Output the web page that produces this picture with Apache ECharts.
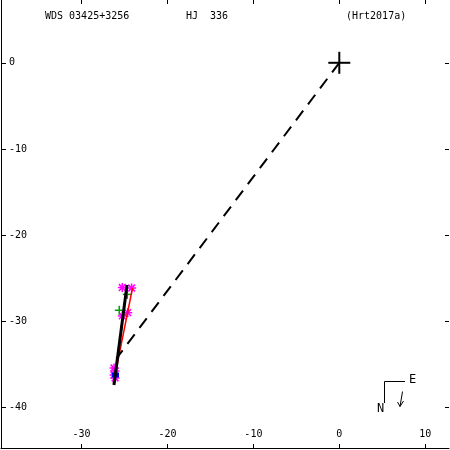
<!DOCTYPE html>
<html><head><meta charset="utf-8">
<script src="https://cdn.jsdelivr.net/npm/echarts@6/dist/echarts.min.js"></script>
<style>html,body{margin:0;padding:0;background:#fff}#c{width:450px;height:450px}</style>
</head><body><div id="c"></div>
<script>
const xTicks = [-30, -20, -10, 0, 10];
const yTicks = [0, -10, -20, -30, -40];
const origin = [[0, 0]];
const obsStars = [[-25.26,-26.07],[-24.17,-26.13],[-24.63,-28.99],[-25.26,-29.37],[-26.22,-35.41],[-26.1,-35.76],[-26.22,-36.22],[-26.1,-36.57]];
const greenPlus = [[-24.68,-26.87],[-25.61,-28.71]];
const blueSq = [[-26.05,-36.22]];
const blackLine = [[-24.71,-25.78],[-26.23,-37.38]];
const redLine = [[-24.07,-26.13],[-26.29,-37.15]];
const dashLine = [[0,0],[-25.94,-34.3]];
const titleLeft = 'WDS 03425+3256';
const titleMid = 'HJ  336';
const titleRight = '(Hrt2017a)';

const FONT = 'DejaVu Sans Mono';
const chart = echarts.init(document.getElementById('c'), null, {renderer:'canvas'});

function marker(kind, color, r, lw) {
  return function(params, api) {
    const p = api.coord([api.value(0), api.value(1)]);
    const st = {stroke: color, lineWidth: lw};
    const L = (x1,y1,x2,y2) => ({type:'line', shape:{x1:p[0]+x1,y1:p[1]+y1,x2:p[0]+x2,y2:p[1]+y2}, style:st});
    let ch = [L(-r,0,r,0), L(0,-r,0,r)];
    if (kind === 'star') { const d = r*0.75; ch.push(L(-d,-d,d,d), L(-d,d,d,-d)); }
    if (kind === 'sq') { return {type:'rect', shape:{x:p[0]-r, y:p[1]-r*0.7, width:2*r, height:1.4*r}, style:{fill:color}}; }
    return {type:'group', children: ch};
  };
}

const xmin = -39.38, xmax = 12.77, ymin = -44.69, ymax = 7.285;
chart.setOption({
  animation: false,
  backgroundColor: '#fff',
  grid: {left: 1, top: 0, right: 1, bottom: 2},
  xAxis: [
    {type:'value', splitLine:{show:false}, min:xmin, max:xmax, position:'bottom',
      axisLine:{show:true, onZero:false, lineStyle:{color:'#000', width:1}},
      axisTick:{show:true, inside:true, length:4, customValues:xTicks, lineStyle:{color:'#000'}},
      axisLabel:{show:true, inside:true, margin:9, customValues:xTicks, color:'#000', fontFamily:FONT, fontSize:10}},
    {type:'value', splitLine:{show:false}, min:xmin, max:xmax, position:'top',
      axisLine:{show:false, onZero:false},
      axisTick:{show:true, inside:true, length:4, customValues:xTicks, lineStyle:{color:'#000'}},
      axisLabel:{show:false}}
  ],
  yAxis: [
    {type:'value', splitLine:{show:false}, min:ymin, max:ymax, position:'left',
      axisLine:{show:true, onZero:false, lineStyle:{color:'#000', width:1}},
      axisTick:{show:true, inside:true, length:5, customValues:yTicks, lineStyle:{color:'#000'}},
      axisLabel:{show:true, inside:true, margin:8, customValues:yTicks, color:'#000', fontFamily:FONT, fontSize:10}},
    {type:'value', splitLine:{show:false}, min:ymin, max:ymax, position:'right',
      axisLine:{show:false, onZero:false},
      axisTick:{show:true, inside:true, length:4, customValues:yTicks, lineStyle:{color:'#000'}},
      axisLabel:{show:false}}
  ],
  graphic: [
    {type:'text', left:45, top:11, style:{text:titleLeft, font:'10px "DejaVu Sans Mono"', fill:'#000'}},
    {type:'text', left:186, top:11, style:{text:titleMid, font:'10px "DejaVu Sans Mono"', fill:'#000'}},
    {type:'text', left:346, top:11, style:{text:titleRight, font:'10px "DejaVu Sans Mono"', fill:'#000'}},
    {type:'polyline', shape:{points:[[405,381.5],[384.5,381.5],[384.5,403]]}, style:{stroke:'#000', lineWidth:1, fill:null}},
    {type:'text', left:409, top:374, style:{text:'E', font:'12px "DejaVu Sans Mono"', fill:'#000'}},
    {type:'text', left:377, top:403, style:{text:'N', font:'12px "DejaVu Sans Mono"', fill:'#000'}},
    {type:'polyline', shape:{points:[[402.5,391.5],[400,406.5]]}, style:{stroke:'#000', lineWidth:1, fill:null}},
    {type:'polyline', shape:{points:[[397.5,402],[400,406.5],[403.5,401]]}, style:{stroke:'#000', lineWidth:1, fill:null}}
  ],
  series: [
    {type:'custom', renderItem: marker('star','#ff00ff',4.5,1.5), data: obsStars, z:2},
    {type:'custom', renderItem: marker('plus','#00a000',4.5,1.5), data: greenPlus, z:3},
    {type:'custom', renderItem: marker('sq','#0000ff',3.5,1), data: blueSq, z:3},
    {type:'line', data: redLine, symbol:'none', lineStyle:{color:'#ff0000', width:1.5}, z:4},
    {type:'line', data: blackLine, symbol:'none', lineStyle:{color:'#000', width:3}, z:5},
    {type:'line', data: dashLine, symbol:'none', lineStyle:{color:'#000', width:2, type:[12,8]}, z:5},
    {type:'custom', renderItem: marker('plus','#000',11,2), data: origin, z:6}
  ]
});
</script></body></html>
